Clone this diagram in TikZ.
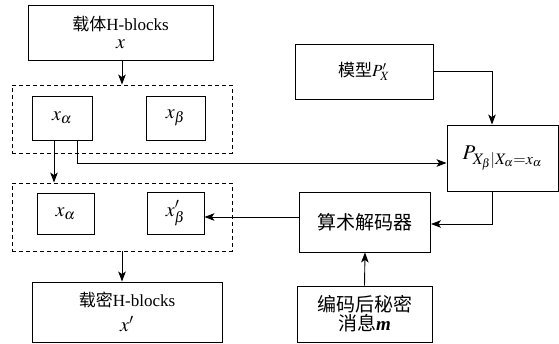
\documentclass[tikz,border=0pt]{standalone}
\usepackage{mathptmx}
\usepackage{fontspec}
\setmainfont{Liberation Serif}
\newfontfamily\cjk{Noto Sans CJK SC}
\usetikzlibrary{arrows.meta}
\newcommand{\mbig}[1]{{\fontsize{20}{20}\selectfont$#1$}}
\begin{document}
\begin{tikzpicture}[x=1pt,y=-1pt,
  box/.style={draw,line width=0.9pt,inner sep=0pt,align=center,font=\fontsize{17}{21}\selectfont},
  mbox/.style={box,font=\fontsize{20}{22}\selectfont},
  dbox/.style={draw,line width=0.9pt,dash pattern=on 4pt off 3pt,inner sep=0pt},
  arr/.style={line width=0.9pt,-{Stealth[length=10pt,width=7.5pt,inset=2.5pt]}}]
\useasboundingbox (0,0) rectangle (559,344);
% left column
\node[box,minimum width=185pt,minimum height=55pt] (top) at (120.5,32.5)
  {{\cjk 载体}H-blocks\\[-3pt]\mbig{x}};
\node[dbox,minimum width=220pt,minimum height=68pt] (d1) at (122,119) {};
\node[mbox,minimum width=60pt,minimum height=44pt] (xa1) at (62,118) {$x_\alpha$};
\node[mbox,minimum width=59pt,minimum height=44pt] (xb1) at (175.5,118) {$x_\beta$};
\node[dbox,minimum width=220pt,minimum height=68pt] (d2) at (122,217) {};
\node[mbox,minimum width=57pt,minimum height=41pt] (xa2) at (65.5,213.5) {$x_\alpha$};
\node[mbox,minimum width=57pt,minimum height=42pt] (xb2) at (175.5,213.5) {$x'_\beta$};
\node[box,minimum width=190pt,minimum height=60pt] (bot) at (127,312)
  {{\cjk 载密}H-blocks\\[4pt]\mbig{x'}};
% right column
\node[box,minimum width=138pt,minimum height=55pt] (model) at (364,71.5)
  {{\cjk 模型}$P'_X$};
\node[box,minimum width=111pt,minimum height=66pt,font=\fontsize{21}{22}\selectfont] (P) at (502.5,158)
  {$P_{\mbox{\fontsize{16}{16}\selectfont$X_\beta|X_\alpha{=}x_\alpha$}}$};
\node[box,minimum width=131pt,minimum height=60pt,font=\fontsize{19}{22}\selectfont] (dec) at (365,222)
  {\cjk 算术解码器};
\node[box,minimum width=135pt,minimum height=56pt,font=\fontsize{19}{22}\selectfont] (msg) at (364.5,314)
  {{\cjk 编码后秘密}\\[-3pt]{\cjk 消息}\textbf{\textit{m}}};
% connectors
\draw[arr] ([xshift=1.5pt]top.south) -- ([xshift=1.5pt]top.south |- d1.north);
\draw[arr] ([xshift=-8pt]xa1.south) -- ([xshift=-8pt]xa1.south |- d2.north);
\coordinate (pin) at (P.west |- 0,163);
\draw[arr] ([xshift=15pt]xa1.south) |- (pin);
\draw[arr] (model.east) -| ([xshift=-10.5pt]P.north);
\coordinate (decin) at (dec.east |- 0,224);
\draw[arr] ([xshift=-10.5pt]P.south) |- (decin);
\coordinate (decout) at (dec.west |- 0,217);
\draw[arr] (decout) -- (xb2.east |- decout);
\draw[arr] (d2.south) -- (d2.south |- bot.north);
\draw[arr] (msg.north) -- (dec.south);
\end{tikzpicture}
\end{document}
